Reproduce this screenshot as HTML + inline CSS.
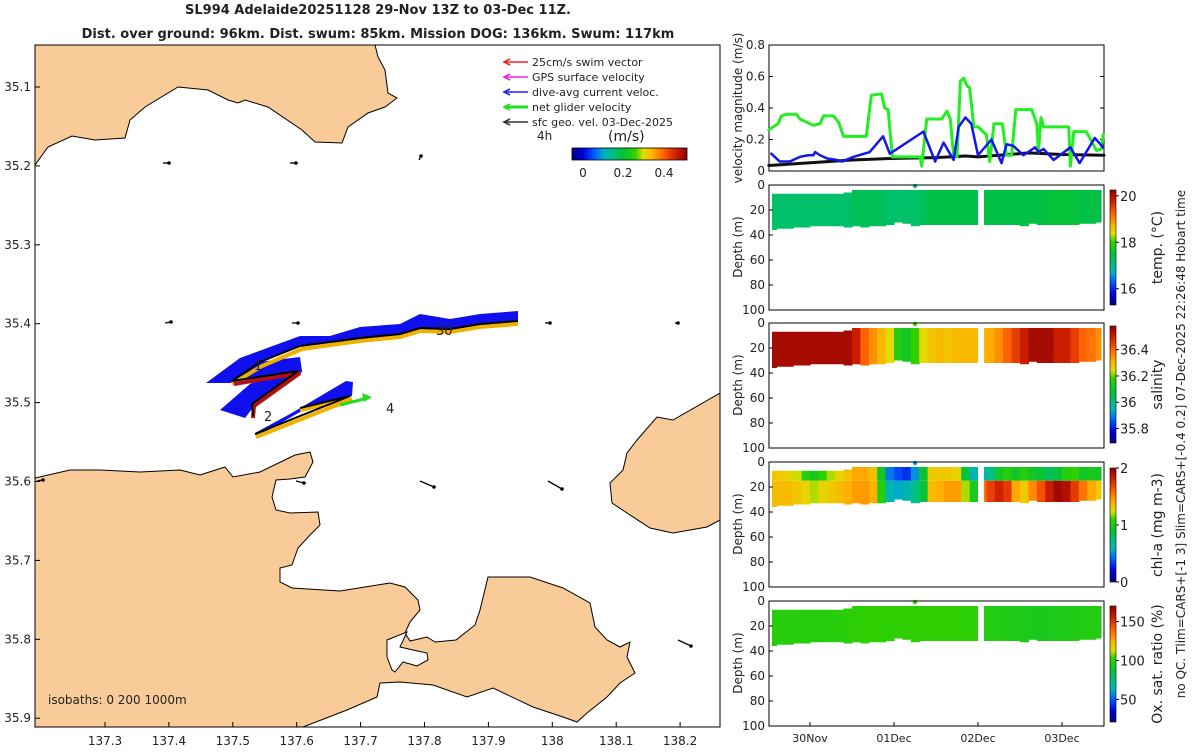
<!DOCTYPE html>
<html><head><meta charset="utf-8">
<style>
body{margin:0;background:#fff;width:1200px;height:750px;overflow:hidden;font-family:"Liberation Sans",sans-serif}
svg text{font-family:"DejaVu Sans","Liberation Sans",sans-serif;fill:#222}
</style></head>
<body>
<svg id="fig" width="1200" height="750" viewBox="0 0 1200 750" xmlns="http://www.w3.org/2000/svg">
<text x="378" y="14" text-anchor="middle" font-size="13" font-weight="bold">SL994 Adelaide20251128 29-Nov 13Z to 03-Dec 11Z.</text>
<text x="378" y="38" text-anchor="middle" font-size="13" font-weight="bold">Dist. over ground: 96km. Dist. swum: 85km. Mission DOG: 136km. Swum: 117km</text>
<defs>
<clipPath id="mapclip"><rect x="35" y="45" width="685" height="682"/></clipPath>
<linearGradient id="jetH" x1="0" x2="1" y1="0" y2="0"></linearGradient>
<linearGradient id="jetV" x1="0" x2="0" y1="1" y2="0"></linearGradient>
</defs>
<g clip-path="url(#mapclip)">
<polygon fill="#f9cb98" stroke="#000" stroke-width="1" points="35,45 375,45 378,57 385,70 388,93 397,98 385,107 368,113 348,127 342,143 315,142 302,130 268,107 245,100 238,103 228,100 208,90 178,87 145,107 130,120 125,138 95,140 72,136 48,147 35,165"/>
<polygon fill="#f9cb98" stroke="#000" stroke-width="1" points="35,478 70,470 100,470 140,472 180,470 200,475 225,467 233,477 260,472 295,455 310,452 313,462 305,477 290,479 276,480 272,497 276,510 290,513 318,512 320,525 310,535 298,548 292,565 280,568 280,582 292,588 340,591 390,583 405,587 418,600 420,610 410,622 405,633 410,641 427,637 435,642 456,640 475,625 480,610 488,577 530,577 563,588 590,603 595,627 607,640 620,647 630,642 627,657 635,673 620,683 607,697 587,713 577,722 563,717 533,707 493,688 467,697 433,685 400,682 380,683 377,697 347,710 303,727 35,727"/>
<polygon fill="#fff" stroke="#000" stroke-width="1" points="387,640 407,632 400,647 413,650 427,653 428,660 417,666 403,662 395,672 392,670 387,657"/>
<polygon fill="#f9cb98" stroke="#000" stroke-width="1" points="720,393 673,420 657,417 637,440 627,453 623,470 610,483 612,503 627,513 650,528 673,533 707,527 720,520"/>
<g>
<polygon fill="#1010ee" points="206,383 240,358 300,336 330,336 360,327 400,324 420,314 450,319 480,314 518,311 518,320 480,326 450,331 420,329 400,336 350,341 300,346 260,363 232,383"/>
<polygon fill="#1010ee" points="222,383 242,364 300,357 302,371 232,382"/>
<polygon fill="#1010ee" points="220,410 250,384 300,361 302,372 255,405 245,418"/>
<polygon fill="#1010ee" points="255,433 290,414 346,381 353,382 352,396 300,412 256,437"/>
<polyline fill="none" stroke="#f0b000" stroke-width="4" points="232,384 262,366 302,349 360,341 400,337 420,331 450,332 480,327 518,324"/>
<polyline fill="none" stroke="#000" stroke-width="2" points="232,381 260,362 300,346 360,338 400,334 420,328 450,329 480,324 518,321"/>
<polyline fill="none" stroke="#b01010" stroke-width="4" points="234,384 300,373 254,406 253,418"/>
<polyline fill="none" stroke="#000" stroke-width="2" points="232,381 298,371 252,404 253,416"/>
<polyline fill="none" stroke="#f0b000" stroke-width="4" points="256,437 352,399 300,410"/>
<polyline fill="none" stroke="#000" stroke-width="2" points="255,434 350,396 300,408"/>
<line x1="340" y1="405" x2="368" y2="398" stroke="#22dd22" stroke-width="3"/>
<polygon fill="#22dd22" points="372,397 362,393 364,402"/>
</g>
<text x="254" y="370" font-size="13">1</text>
<text x="264" y="421" font-size="13">2</text>
<text x="386" y="413" font-size="13">4</text>
<text x="436" y="335" font-size="13">30</text>
<g id="geoArrows"></g>
</g>
<rect x="35" y="45" width="685" height="682" fill="none" stroke="#000" stroke-width="1"/>
<g id="mapTicks"></g>
<text x="48" y="704" font-size="12">isobaths: 0   200   1000m</text>
<g font-size="11">
<g id="legendArrows"></g>
<text x="532" y="66">25cm/s swim vector</text>
<text x="532" y="81">GPS surface velocity</text>
<text x="532" y="96">dive-avg current veloc.</text>
<text x="532" y="111">net glider velocity</text>
<text x="532" y="126">sfc geo. vel. 03-Dec-2025</text>
<text x="537" y="140" font-size="12">4h</text>
<text x="608" y="141" font-size="14">(m/s)</text>
<rect x="572" y="148" width="115" height="12" fill="url(#jetH)" stroke="#000" stroke-width="0.8"/>
<text x="583" y="177" text-anchor="middle" font-size="12">0</text>
<text x="623" y="177" text-anchor="middle" font-size="12">0.2</text>
<text x="664" y="177" text-anchor="middle" font-size="12">0.4</text>
</g>
<g id="right"></g>
<text transform="translate(1185,444) rotate(-90)" text-anchor="middle" font-size="12">no QC. Tlim=CARS+[-1 3] Slim=CARS+[-0.4 0.2] 07-Dec-2025 22:26:48 Hobart time</text>
</svg>
<script>
// ---- velocity chart data (t = days since 30-Nov 00Z) ----
const greenT=[-0.49,-0.44,-0.38,-0.34,-0.28,-0.16,-0.12,-0.04,0.04,0.12,0.16,0.28,0.34,0.40,0.67,0.73,0.85,0.89,0.93,0.98,1.31,1.33,1.39,1.57,1.63,1.67,1.71,1.75,1.79,1.83,1.87,1.90,1.95,2.00,2.10,2.14,2.19,2.29,2.34,2.40,2.45,2.64,2.70,2.72,2.75,2.78,3.08,3.10,3.14,3.29,3.41,3.47,3.49];
const greenV=[0.26,0.28,0.30,0.35,0.36,0.36,0.33,0.31,0.29,0.30,0.35,0.35,0.31,0.22,0.22,0.48,0.49,0.40,0.39,0.09,0.09,0.03,0.33,0.33,0.38,0.33,0.10,0.09,0.57,0.59,0.54,0.53,0.28,0.28,0.23,0.06,0.30,0.30,0.10,0.10,0.39,0.39,0.30,0.12,0.34,0.28,0.28,0.03,0.25,0.25,0.13,0.14,0.23];
const blueT=[-0.46,-0.36,-0.24,-0.12,-0.02,0.04,0.06,0.12,0.20,0.32,0.38,0.52,0.71,0.87,0.95,1.35,1.49,1.59,1.71,1.77,1.85,1.92,2.00,2.16,2.28,2.34,2.42,2.54,2.68,2.72,2.78,2.90,3.10,3.21,3.39,3.49];
const blueV=[0.11,0.06,0.06,0.09,0.10,0.10,0.12,0.10,0.08,0.07,0.06,0.09,0.12,0.22,0.11,0.25,0.06,0.18,0.07,0.28,0.34,0.30,0.10,0.20,0.05,0.17,0.16,0.10,0.15,0.12,0.14,0.07,0.15,0.05,0.21,0.15];
const blackT=[-0.49,0.5,1.0,1.5,1.85,2.0,2.5,2.6,3.0,3.5];
const blackV=[0.035,0.07,0.08,0.085,0.095,0.09,0.11,0.115,0.105,0.10];
const velTicks=[0,0.2,0.4,0.6,0.8];
const dayTicks=[0,1,2,3];
const dayLabels=["30Nov","01Dec","02Dec","03Dec"];
// ---- section data: 40 bins starting t=-0.5 step 0.1 ----
const binStart=-0.5, binWidth=0.1;
const tempVals=[17.2,17.2,17.2,17.2,17.2,17.2,17.2,17.2,17.2,17.2,17.3,17.3,17.3,17.3,17.2,17.2,17.2,17.2,17.3,17.4,17.4,17.4,17.4,17.4,17.4,17.4,17.4,17.4,17.4,17.4,17.4,17.4,17.4,17.5,17.5,17.5,17.5,17.4,17.4,17.4];
const salVals=[36.55,36.55,36.55,36.55,36.55,36.55,36.55,36.55,36.55,36.55,36.5,36.4,36.35,36.3,36.25,36.15,36.12,36.18,36.25,36.28,36.3,36.28,36.3,36.3,36.3,36.3,36.32,36.35,36.4,36.45,36.5,36.55,36.55,36.55,36.5,36.5,36.45,36.4,36.38,36.35];
const chlUpper=[1.32,1.32,1.28,1.22,1.05,0.98,1.1,1.2,1.28,1.35,1.42,1.42,1.35,0.95,0.45,0.35,0.3,0.5,0.9,1.32,1.32,1.32,1.28,0.9,0.6,0.6,0.7,0.95,1.05,0.95,1.05,0.95,0.9,0.8,0.9,1.05,1.1,0.95,1.0,0.95];
const chlLower=[1.36,1.36,1.36,1.32,1.28,1.2,1.28,1.32,1.36,1.4,1.45,1.45,1.4,1.05,0.6,0.55,0.6,0.7,0.9,1.36,1.4,1.45,1.45,1.2,1.0,1.55,1.7,1.8,1.72,1.42,1.32,1.5,1.65,1.82,1.95,1.9,1.72,1.55,1.42,1.32];
const oxVals=[100,100,100,100,99,99,99,100,100,101,102,102,102,102,102,102,102,102,102,102,102,102,102,102,101,98,98,98,97,97,96,95,95,95,96,97,97,98,98,98];
const bandTop=[7,7,7,7,7,7,7,7,7,6,4,4,4,4,4,4,4,4,4,4,4,4,4,4,4,4,4,4,4,4,4,4,4,4,4,4,4,4,4,4];
const bandBot=[36,35,35,34,34,33,33,33,33,34,33,34,33,33,32,30,31,33,32,32,32,32,32,32,32,32,32,32,32,32,33,31,32,32,32,32,32,31,31,30];
const gapT=[2.0,2.07];
const surfT=1.25;
const depthTicks=[0,20,40,60,80,100];

const NS='http://www.w3.org/2000/svg';
function mk(tag,attrs,parent){const e=document.createElementNS(NS,tag);for(const k in attrs)e.setAttribute(k,attrs[k]);parent.appendChild(e);return e;}
const CM=[[0,[0,0,128]],[0.1,[0,0,224]],[0.2,[0,96,255]],[0.28,[0,176,192]],[0.34,[0,192,144]],[0.43,[0,192,64]],[0.55,[48,208,0]],[0.62,[224,224,0]],[0.7,[255,176,0]],[0.8,[255,96,0]],[0.9,[208,32,0]],[1,[144,0,0]]];
function cmap(v){v=Math.max(0,Math.min(1,v));for(let i=1;i<CM.length;i++){if(v<=CM[i][0]){const a=CM[i-1],b=CM[i];const f=(v-a[0])/(b[0]-a[0]);return 'rgb('+[0,1,2].map(k=>Math.round(a[1][k]+f*(b[1][k]-a[1][k]))).join(',')+')';}}return 'rgb(144,0,0)';}
['jetH','jetV'].forEach(id=>{const g=document.getElementById(id);CM.forEach(s=>mk('stop',{offset:s[0],'stop-color':`rgb(${s[1].join(',')})`},g));});
const X0=769,X1=1104;
const xT=t=>810+t*84;
const right=document.getElementById('right');

const vTop=45,vBot=171;
const yV=v=>vBot-(v/0.8)*(vBot-vTop);
const vg=mk('g',{},right);


mk('rect',{x:X0,y:vTop,width:X1-X0,height:vBot-vTop,fill:'#fff',stroke:'#000','stroke-width':1},vg);
velTicks.forEach(v=>{
  mk('line',{x1:X0,x2:X0+4,y1:yV(v),y2:yV(v),stroke:'#000'},vg);
  mk('line',{x1:X1,x2:X1-4,y1:yV(v),y2:yV(v),stroke:'#000'},vg);
  const tx=mk('text',{x:X0-4,y:yV(v)+4,'text-anchor':'end','font-size':12},vg);tx.textContent=v===0?'0':v.toFixed(1);
  
  
});
function series(T,V,color,w,name){
  const p=mk('polyline',{fill:'none',stroke:color,'stroke-width':w,'stroke-linejoin':'round','stroke-linecap':'round',points:T.map((t,i)=>xT(t)+','+yV(V[i])).join(' ')},vg);
  
  
}
series(blackT,blackV,'#111',3,'sfc-geo-velocity-line');
series(greenT,greenV,'#22ee22',3,'net-glider-velocity-line');
series(blueT,blueV,'#1515ee',2.5,'dive-avg-current-line');
const vl=mk('text',{transform:`translate(742,${(vTop+vBot)/2}) rotate(-90)`,'text-anchor':'middle','font-size':12},vg);vl.textContent='velocity magnitude (m/s)';



const panels=[
 {top:185,vals:[tempVals],lo:15.3,hi:20.25,ticks:[16,18,20],fmt:v=>String(v),label:'temp. (°C)',name:'temperature-section',cbTop:190,cbBot:305},
 {top:323,vals:[salVals],lo:35.69,hi:36.58,ticks:[35.8,36,36.2,36.4],fmt:v=>v===36?'36':v.toFixed(1),label:'salinity',name:'salinity-section',cbTop:326,cbBot:443},
 {top:462,vals:[chlUpper,chlLower],lo:0,hi:2,ticks:[0,1,2],fmt:v=>String(v),label:'chl-a (mg m-3)',name:'chlorophyll-section',cbTop:468,cbBot:582},
 {top:601,vals:[oxVals],lo:21,hi:170,ticks:[50,100,150],fmt:v=>String(v),label:'Ox. sat. ratio (%)',name:'oxygen-section',cbTop:606,cbBot:722}
];
panels.forEach((P,pi)=>{
  const g=mk('g',{},right);
  
  
  const yD=d=>P.top+d*1.25;
  const col=v=>cmap((v-P.lo)/(P.hi-P.lo));
  for(let i=0;i<40;i++){
    const t0=binStart+i*binWidth, t1=t0+binWidth;
    let a=Math.max(xT(t0),X0+3), b=Math.min(xT(t1),X1-3);
    const top=bandTop[i], bot=bandBot[i];
    if(P.vals.length===1){
      const r=mk('rect',{x:a,y:yD(top),width:b-a+0.6,height:yD(bot)-yD(top),fill:col(P.vals[0][i])},g);
      
      
    }else{
      const mid=15;
      const r1=mk('rect',{x:a,y:yD(top),width:b-a+0.6,height:yD(mid)-yD(top),fill:col(P.vals[0][i])},g);
      
      
      const r2=mk('rect',{x:a,y:yD(mid),width:b-a+0.6,height:yD(bot)-yD(mid),fill:col(P.vals[1][i])},g);
      
      
    }
  }
  mk('rect',{x:xT(gapT[0]),y:P.top+2,width:xT(gapT[1])-xT(gapT[0]),height:60,fill:'#fff'},g);
  const sv=P.vals[0][17];
  const dot=mk('circle',{cx:xT(surfT),cy:P.top+1,r:2.2,fill:col(sv)},g);
  
  
  mk('rect',{x:X0,y:P.top,width:X1-X0,height:125,fill:'none',stroke:'#000','stroke-width':1},g);
  depthTicks.forEach(d=>{
    mk('line',{x1:X0,x2:X0+4,y1:yD(d),y2:yD(d),stroke:'#000'},g);
    const tx=mk('text',{x:X0-4,y:yD(d)+4,'text-anchor':'end','font-size':12},g);tx.textContent=d;
    
    
  });
  const dl=mk('text',{transform:`translate(742,${P.top+62}) rotate(-90)`,'text-anchor':'middle','font-size':12},g);dl.textContent='Depth (m)';
  
  
  const cb=mk('rect',{x:1110,y:P.cbTop,width:6,height:P.cbBot-P.cbTop,fill:'url(#jetV)',stroke:'#000','stroke-width':0.6},g);
  
  
  const yC=v=>P.cbBot-(v-P.lo)/(P.hi-P.lo)*(P.cbBot-P.cbTop);
  P.ticks.forEach(v=>{
    mk('line',{x1:1116,x2:1119,y1:yC(v),y2:yC(v),stroke:'#000'},g);
    const tx=mk('text',{x:1120,y:yC(v)+5,'font-size':13},g);tx.textContent=P.fmt(v);
    
    
  });
  const cl=mk('text',{transform:`translate(1162,${(P.cbTop+P.cbBot)/2}) rotate(-90)`,'text-anchor':'middle','font-size':14},g);cl.textContent=P.label;
  
  
});
dayTicks.forEach((d,i)=>{
  mk('line',{x1:xT(d),x2:xT(d),y1:726,y2:722,stroke:'#000'},right);
  const tx=mk('text',{x:xT(d),y:742,'text-anchor':'middle','font-size':11},right);tx.textContent=dayLabels[i];
  
  
});

const mt=document.getElementById('mapTicks');
const lonTicks=[137.3,137.4,137.5,137.6,137.7,137.8,137.9,138,138.1,138.2];
const latTicks=[35.1,35.2,35.3,35.4,35.5,35.6,35.7,35.8,35.9];
const xLon=l=>105+(l-137.3)/0.1*63.9;
const yLat=l=>87+(l-35.1)/0.1*78.9;
lonTicks.forEach(l=>{
  mk('line',{x1:xLon(l),x2:xLon(l),y1:727,y2:722,stroke:'#000'},mt);
  const tx=mk('text',{x:xLon(l),y:745,'text-anchor':'middle','font-size':12},mt);tx.textContent=l===138?'138':l.toFixed(1);
  
  
});
latTicks.forEach(l=>{
  mk('line',{x1:35,x2:40,y1:yLat(l),y2:yLat(l),stroke:'#000'},mt);
  const tx=mk('text',{x:31,y:yLat(l)+4,'text-anchor':'end','font-size':12},mt);tx.textContent=l.toFixed(1);
  
  
});
const ga=document.getElementById('geoArrows');
[[163,163,6,0],[290,163,6,0],[419,160,2,-4],[165,323,6,-1],[292,323,6,0],[545,323,5,0],[675,323,3,0],[37,481,6,-1],[296,481,8,2],[420,481,14,6],[548,481,14,8],[678,640,13,6]].forEach(a=>{
  const [x,y,dx,dy]=a;
  mk('line',{x1:x,y1:y,x2:x+dx,y2:y+dy,stroke:'#000','stroke-width':1.3},ga);
  mk('circle',{cx:x+dx,cy:y+dy,r:1.8,fill:'#000'},ga);
});
const la=document.getElementById('legendArrows');
[['#ee2222',62],['#ee22ee',77],['#2222ee',92],['#22dd22',107],['#333',122]].forEach((c,i)=>{
  mk('line',{x1:528,y1:c[1],x2:504,y2:c[1],stroke:c[0],'stroke-width':i===3?3:1.6},la);
  mk('polyline',{points:`${510},${c[1]-3} 504,${c[1]} ${510},${c[1]+3}`,fill:'none',stroke:c[0],'stroke-width':1.6},la);
});
</script>
</body></html>
